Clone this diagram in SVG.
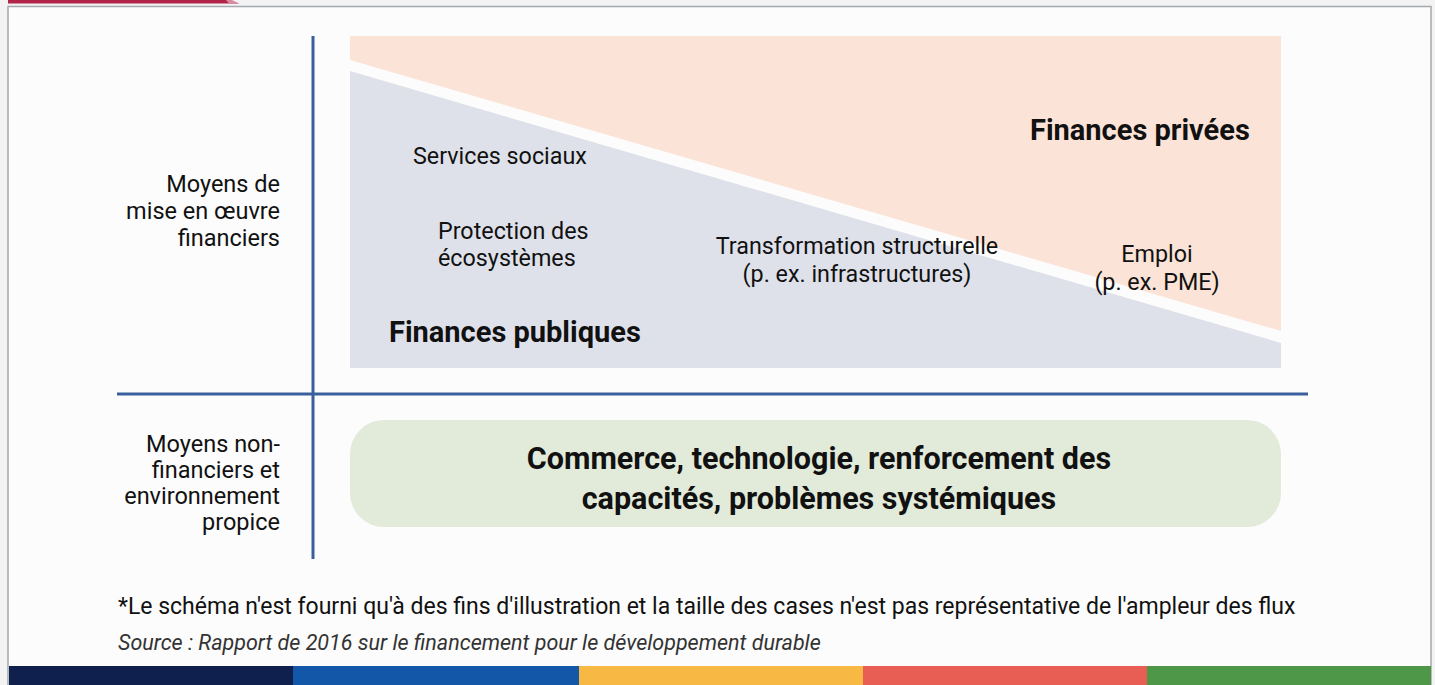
<svg xmlns="http://www.w3.org/2000/svg" width="1435" height="685" viewBox="0 0 1435 685">
<style>
.t{font-family:Roboto,"Liberation Sans",sans-serif;fill:#111;}
.lab{font-size:23.3px;}
.side{font-size:23.5px;text-anchor:end;}
.big{font-size:29px;font-weight:bold;}
.axis{stroke:#3a5f9b;stroke-width:3;fill:none;}
</style>
<rect x="0" y="0" width="1435" height="685" fill="#f3f3f3"/>
<rect x="8" y="6.5" width="1423" height="680" fill="#fcfcfc" stroke="#a4a9ae" stroke-width="1.5"/>
<polygon points="8,0 228,0 239,3.5 8,3.5" fill="#b2244a"/>
<polygon points="226,0 232,0 239,3.5 229,3.5" fill="#d98aa0"/>
<g id="bars">
<rect x="9" y="666" width="284" height="19" fill="#10204e"/>
<rect x="293" y="666" width="286" height="19" fill="#1257a8"/>
<rect x="579" y="666" width="284" height="19" fill="#f7b944"/>
<rect x="863" y="666" width="284" height="19" fill="#e85d54"/>
<rect x="1147" y="666" width="284" height="19" fill="#4e9648"/>
</g>
<g id="private-finance">
<polygon points="350,36 1281,36 1281,331 350,60" fill="#fbe4d7"/>
<text class="t big" x="1030" y="140">Finances privées</text>
</g>
<g id="public-finance">
<polygon points="350,71 1281,343 1281,368 350,368" fill="#dfe1ea"/>
<text class="t big" x="389" y="342">Finances publiques</text>
</g>
<g id="services-sociaux"><text class="t lab" x="413" y="164">Services sociaux</text></g>
<g id="protection"><text class="t lab" x="438" y="239">Protection des<tspan x="438" y="266">écosystèmes</tspan></text></g>
<g id="transformation"><text class="t lab" text-anchor="middle" x="857" y="254">Transformation structurelle<tspan x="857" y="282">(p. ex. infrastructures)</tspan></text></g>
<g id="emploi"><text class="t lab" text-anchor="middle" x="1157" y="262">Emploi<tspan x="1157" y="290">(p. ex. PME)</tspan></text></g>
<g id="non-financial">
<rect x="350" y="420" width="931" height="107" rx="34" fill="#e2ead9"/>
<text class="t" font-size="30.5" font-weight="bold" text-anchor="middle" x="819" y="469">Commerce, technologie, renforcement des<tspan x="819" y="509">capacités, problèmes systémiques</tspan></text>
</g>
<g id="connectors">
<line class="axis" x1="313" y1="36" x2="313" y2="559"/>
<line class="axis" x1="117" y1="394" x2="1308" y2="394"/>
</g>
<g id="label-financial"><text class="t side" x="280" y="192">Moyens de<tspan x="280" y="219">mise en œuvre</tspan><tspan x="280" y="246">financiers</tspan></text></g>
<g id="label-nonfinancial"><text class="t side" x="280" y="452">Moyens non-<tspan x="280" y="478">financiers et</tspan><tspan x="280" y="504">environnement</tspan><tspan x="280" y="530">propice</tspan></text></g>
<text class="t" font-size="23" x="118" y="614">*Le schéma n'est fourni qu'à des fins d'illustration et la taille des cases n'est pas représentative de l'ampleur des flux</text>
<text class="t" font-size="21.5" font-style="italic" x="118" y="650" style="fill:#333">Source : Rapport de 2016 sur le financement pour le développement durable</text>
</svg>
